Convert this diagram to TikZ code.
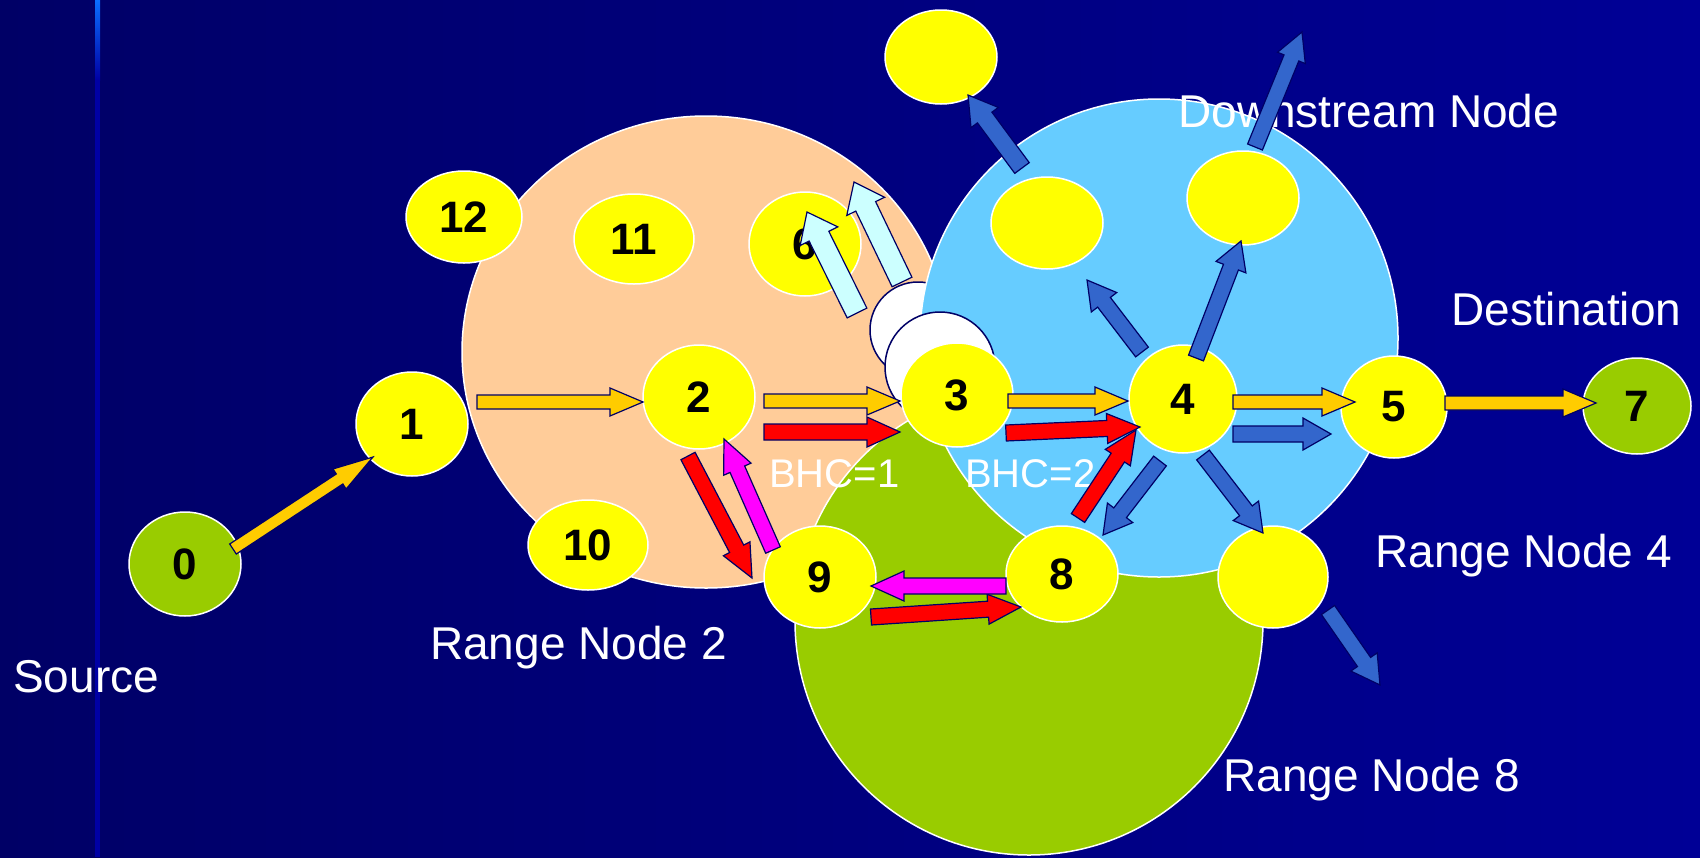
\documentclass[tikz,border=0pt]{standalone}
\usepackage{fontspec}
\setmainfont{Liberation Sans}
\usetikzlibrary{shapes.geometric}
\definecolor{bgL}{RGB}{0,0,102}
\definecolor{bgR}{RGB}{0,0,150}
\definecolor{barc}{RGB}{0,0,165}
\definecolor{bartop}{RGB}{10,110,255}
\definecolor{peach}{RGB}{255,204,153}
\definecolor{skyb}{RGB}{102,204,255}
\definecolor{lgreen}{RGB}{153,204,0}
\definecolor{yel}{RGB}{255,255,0}
\definecolor{org}{RGB}{255,204,0}
\definecolor{redc}{RGB}{255,0,0}
\definecolor{mag}{RGB}{255,0,255}
\definecolor{blu}{RGB}{51,102,204}
\definecolor{cyn}{RGB}{204,255,255}
\definecolor{outl}{RGB}{0,0,102}
\tikzset{
 rng/.style={draw=white, line width=1.5pt},
 ynode/.style={ellipse, fill=yel, draw=white, line width=1.5pt, inner sep=0pt, font=\fontsize{44}{50}\selectfont\bfseries, text=black},
 gnode/.style={ynode, fill=lgreen},
 wnode/.style={circle, fill=white, draw=outl, line width=1.5pt, inner sep=0pt},
 lbl/.style={text=white, font=\fontsize{46}{55}\selectfont, anchor=base west, inner sep=0pt},
 bhc/.style={text=white, font=\fontsize{40}{48}\selectfont, anchor=base west, inner sep=0pt},
 arrline/.style={draw=outl, line width=1.2pt, line join=miter}
}
\newcommand\barr[8]{%
 \pgfmathsetmacro\bang{atan2(-(#5-#3),#4-#2)}%
 \pgfmathsetmacro\blen{veclen(#4-#2,#5-#3)}%
 \pgfmathsetmacro\bneck{\blen-#8}%
 \begin{scope}[shift={(#2,#3)},rotate=\bang]
  \filldraw[arrline,fill=#1] (0pt,#6pt) -- (\bneck pt,#6pt) -- (\bneck pt,#7pt) -- (\blen pt,0pt) -- (\bneck pt,-#7pt) -- (\bneck pt,-#6pt) -- (0pt,-#6pt) -- cycle;
 \end{scope}}
\begin{document}
\begin{tikzpicture}[x=1pt,y=-1pt]
\useasboundingbox (0,0) rectangle (1700,857);
\shade[left color=bgL, right color=bgR] (0,0) rectangle (1700,857);
\fill[barc] (95,0) rectangle (100,857);
\shade[top color=bartop, bottom color=barc] (95,0) rectangle (100,80);
% range circles
\filldraw[rng, fill=peach] (706,352) circle [x radius=244pt, y radius=236pt];
\node[wnode, minimum size=96pt] (w1) at (918,330) {};
\filldraw[rng, fill=lgreen] (1029,621) circle [radius=234pt];
\filldraw[rng, fill=skyb] (1159,338) circle [radius=239pt];
\node[wnode, minimum size=110pt] (w2) at (940,367) {};
% labels
\node[lbl] (tsrc) at (13,692) {Source};
\node[lbl] (tr2) at (430,659) {Range Node 2};
\node[lbl] (tr8) at (1223,791) {Range Node 8};
\node[lbl] (tr4) at (1375,567) {Range Node 4};
\node[lbl] (tdst) at (1451,325) {Destination};
\node[lbl] (tdn) at (1178,127) {Downstream Node};
\node[bhc] (b1) at (769,487) {BHC=1};
\node[bhc] (b2) at (965,487) {BHC=2};
% nodes
\node[gnode, minimum width=112pt, minimum height=104pt] (n0) at (185,564) {0};
\node[ynode, minimum width=112pt, minimum height=104pt] (n1) at (412,424) {1};
\node[ynode, minimum width=112pt, minimum height=104pt] (n2) at (699,397) {2};
\node[ynode, minimum width=112pt, minimum height=104pt] (n3) at (957,395) {3};
\node[ynode, minimum width=108pt, minimum height=108pt] (n4) at (1183,399) {4};
\node[ynode, minimum width=106pt, minimum height=102pt] (n5) at (1394,407) {5};
\node[gnode, minimum width=108pt, minimum height=96pt] (n7) at (1637,406) {7};
\node[ynode, minimum width=112pt, minimum height=104pt] (n6) at (805,244) {6};
\node[ynode, minimum width=112pt, minimum height=96pt] (n8) at (1062,574) {8};
\node[ynode, minimum width=112pt, minimum height=102pt] (n9) at (820,577) {9};
\node[ynode, minimum width=120pt, minimum height=90pt] (n10) at (588,545) {10};
\node[ynode, minimum width=120pt, minimum height=90pt] (n11) at (634,239) {11};
\node[ynode, minimum width=116pt, minimum height=92pt] (n12) at (464,217) {12};
\node[ynode, minimum width=112pt, minimum height=92pt] (nA) at (1047,223) {};
\node[ynode, minimum width=112pt, minimum height=94pt] (nB) at (1243,198) {};
\node[ynode, minimum width=112pt, minimum height=94pt] (nT) at (941,57) {};
\node[ynode, minimum width=110pt, minimum height=102pt] (nR) at (1273,577) {};
% orange arrows
\barr{org}{233}{549}{373}{457}{6}{12}{40}
\barr{org}{477}{402}{643}{402}{7}{14}{33}
\barr{org}{764}{401}{900}{401}{7}{14}{33}
\barr{org}{1008}{401}{1128}{401}{7}{14}{33}
\barr{org}{1233}{402}{1355}{402}{7}{14}{33}
\barr{org}{1445}{403}{1596}{403}{7}{14}{33}
% red arrows
\barr{redc}{764}{432}{900}{432}{8}{15}{33}
\barr{redc}{1006}{433}{1140}{427}{8}{15}{33}
\barr{redc}{688}{456}{752}{578}{8}{15}{33}
\barr{redc}{871}{617}{1021}{607}{8}{15}{33}
\barr{redc}{1078}{518}{1136}{430}{8}{15}{33}
% magenta arrows
\barr{mag}{773}{550}{724}{439}{8}{15}{33}
\barr{mag}{1006}{586}{871}{586}{8}{15}{33}
% blue arrows
\barr{blu}{1233}{434}{1331}{434}{8}{16}{28}
\barr{blu}{1142}{352}{1087}{280}{8}{16}{28}
\barr{blu}{1196}{358}{1241}{241}{8}{16}{28}
\barr{blu}{1160}{461}{1103}{535}{8}{16}{28}
\barr{blu}{1203}{455}{1263}{533}{8}{16}{28}
\barr{blu}{1022}{168}{968}{95}{9}{17}{28}
\barr{blu}{1255}{147}{1302}{32}{8}{15}{28}
\barr{blu}{1328}{610}{1380}{685}{8}{16}{28}
% light cyan arrows
\barr{cyn}{857}{313}{807}{212}{11}{21}{27}
\barr{cyn}{902}{282}{854}{182}{11}{21}{27}
\end{tikzpicture}
\end{document}
